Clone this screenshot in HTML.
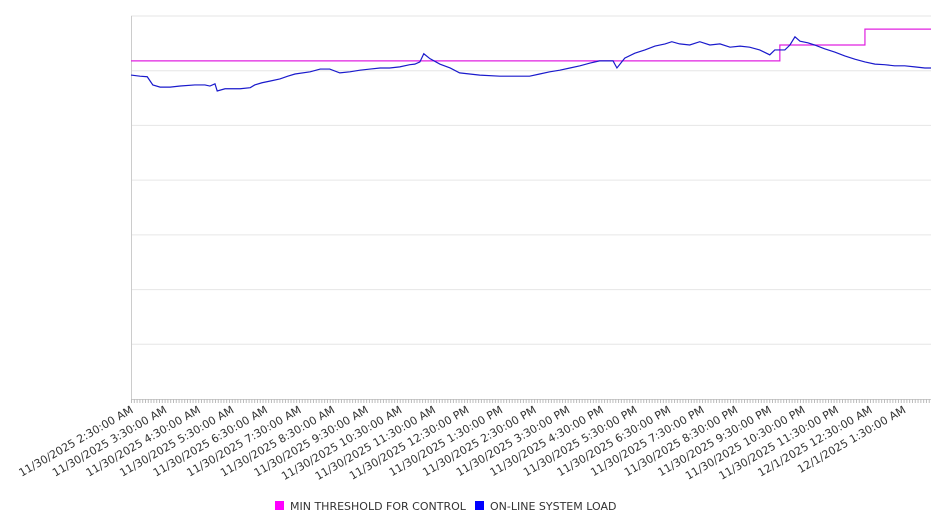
<!DOCTYPE html>
<html><head><meta charset="utf-8"><style>
html,body{margin:0;padding:0;background:#fff;width:946px;height:526px;overflow:hidden}
svg{display:block;font-family:"DejaVu Sans","Liberation Sans",sans-serif}
</style></head><body>
<svg id="chart" width="946" height="526" viewBox="0 0 946 526"></svg>
<script>
// minutes since 11/30/2025 2:30 AM
const loadTimes = [0,16,29,39,52,70,88,114,132,141,150,154,168,195,213,221,234,248,266,280,293,320,338,355,373,391,409,427,445,462,480,498,507,516,523,534,552,570,587,605,623,659,712,730,748,766,784,802,820,837,861,868,882,900,918,936,954,966,980,998,1016,1034,1052,1070,1088,1105,1123,1141,1150,1168,1177,1186,1195,1209,1221,1239,1257,1275,1293,1311,1329,1346,1364,1382,1400,1418,1429];
const loadValues = [592,590,589,574,570,570,572,574,574,572,576,563,567,567,569,574,578,581,585,590,594,598,603,603,596,598,601,603,605,605,607,611,612,616,631,622,612,605,596,594,592,590,590,594,598,601,605,609,614,618,618,605,623,632,638,645,649,653,649,647,653,647,649,643,645,643,638,629,638,638,647,662,654,651,647,640,634,627,621,616,612,611,609,609,607,605,605];
const thrTimes = [0,1159,1159,1311,1311,1429];
const thrValues = [618,618,647,647,676,676];
const tickLabels = ["11/30/2025 2:30:00 AM","11/30/2025 3:30:00 AM","11/30/2025 4:30:00 AM","11/30/2025 5:30:00 AM","11/30/2025 6:30:00 AM","11/30/2025 7:30:00 AM","11/30/2025 8:30:00 AM","11/30/2025 9:30:00 AM","11/30/2025 10:30:00 AM","11/30/2025 11:30:00 AM","11/30/2025 12:30:00 PM","11/30/2025 1:30:00 PM","11/30/2025 2:30:00 PM","11/30/2025 3:30:00 PM","11/30/2025 4:30:00 PM","11/30/2025 5:30:00 PM","11/30/2025 6:30:00 PM","11/30/2025 7:30:00 PM","11/30/2025 8:30:00 PM","11/30/2025 9:30:00 PM","11/30/2025 10:30:00 PM","11/30/2025 11:30:00 PM","12/1/2025 12:30:00 AM","12/1/2025 1:30:00 AM"];
const yMax = 700, yStep = 100;

const NS="http://www.w3.org/2000/svg";
const svg=document.getElementById('chart');
const L=131,R=931,T=16,B=399;
const xMax=1429;
const xs=m=>L+(m/xMax)*(R-L);
const ys=v=>B-(v/yMax)*(B-T);
function mk(tag,attrs,parent){const e=document.createElementNS(NS,tag);for(const k in attrs)e.setAttribute(k,attrs[k]);(parent||svg).appendChild(e);return e;}

const grid=mk('g',{});


for(let v=yStep;v<=yMax;v+=yStep){
  const ln=mk('line',{x1:L,x2:R,y1:ys(v),y2:ys(v),stroke:'#e6e6e6','stroke-width':1},grid);
  
  
}
const yAxis=mk('line',{x1:L+0.5,x2:L+0.5,y1:T,y2:B,stroke:'#ccc'});


const xAxis=mk('line',{x1:L,x2:R,y1:B+0.5,y2:B+0.5,stroke:'#ccc'});


const ticks=mk('g',{});


for(let m=0;m<=xMax;m+=5){
  mk('line',{x1:xs(m)+0.5,x2:xs(m)+0.5,y1:B,y2:B+4,stroke:'#bbb'},ticks);
}
const labels=mk('g',{});


tickLabels.forEach((t,i)=>{
  const x=xs(i*60)+3,y=B+13;
  const tx=mk('text',{x:x,y:y,'text-anchor':'end','font-size':'11',fill:'#333',transform:`rotate(-30 ${x} ${y})`},labels);
  tx.textContent=t;
  
  
});
const thr=mk('polyline',{points:thrTimes.map((t,i)=>xs(t)+','+ys(thrValues[i])).join(' '),fill:'none',stroke:'#e020e0','stroke-width':1.2});


const load=mk('polyline',{points:loadTimes.map((t,i)=>xs(t)+','+ys(loadValues[i])).join(' '),fill:'none',stroke:'#1a1acc','stroke-width':1.2});



const leg=mk('g',{});


const e1=mk('g',{},leg);


mk('rect',{x:275,y:501,width:9,height:9,fill:'#ff00ff'},e1);
const t1=mk('text',{x:290,y:510,'font-size':'11',fill:'#333'},e1);t1.textContent='MIN THRESHOLD FOR CONTROL';
const e2=mk('g',{},leg);


mk('rect',{x:475,y:501,width:9,height:9,fill:'#0000ff'},e2);
const t2=mk('text',{x:490,y:510,'font-size':'11',fill:'#333'},e2);t2.textContent='ON-LINE SYSTEM LOAD';
</script>
</body></html>
